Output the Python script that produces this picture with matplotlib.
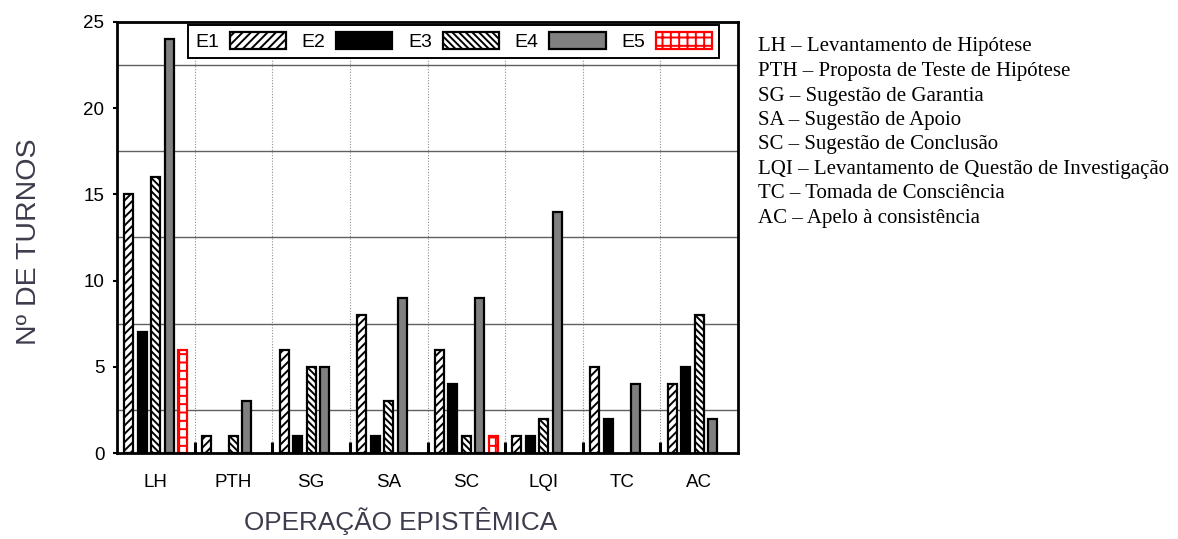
import numpy as np
import matplotlib
matplotlib.use("Agg")
import matplotlib.pyplot as plt
from matplotlib.ticker import MultipleLocator, FixedLocator

categories = ["LH", "PTH", "SG", "SA", "SC", "LQI", "TC", "AC"]
series = ["E1", "E2", "E3", "E4", "E5"]
e1 = [15, 1, 6, 8, 6, 1, 5, 4]
e2 = [7, 0, 1, 1, 4, 1, 2, 5]
e3 = [16, 1, 5, 3, 1, 2, 0, 8]
e4 = [24, 3, 5, 9, 9, 14, 4, 2]
e5 = [6, 0, 0, 0, 1, 0, 0, 0]
values = [e1, e2, e3, e4, e5]

glossary = [
    "LH \u2013 Levantamento de Hipótese",
    "PTH \u2013 Proposta de Teste de Hipótese",
    "SG \u2013 Sugestão de Garantia",
    "SA \u2013 Sugestão de Apoio",
    "SC \u2013 Sugestão de Conclusão",
    "LQI \u2013 Levantamento de Questão de Investigação",
    "TC \u2013 Tomada de Consciência",
    "AC \u2013 Apelo à consistência",
]

# bar styles: facecolor, edgecolor, hatch
styles = [
    ("white", "black", "////"),
    ("black", "black", None),
    ("white", "black", "\\\\\\\\\\"),
    ("#808080", "black", None),
    ("white", "red", "++"),
]

plt.rcParams["font.family"] = ["Liberation Sans", "DejaVu Sans"]
plt.rcParams["hatch.linewidth"] = 1.4

fig = plt.figure(figsize=(11.78, 5.39), dpi=100)
ax = fig.add_axes([117 / 1178, 1 - 453 / 539, 621 / 1178, 431 / 539])

x = np.arange(len(categories))
step = 0.174
width = 0.116
for i, (name, vals) in enumerate(zip(series, values)):
    vals = np.array(vals, dtype=float)
    mask = vals > 0
    fc, ec, hatch = styles[i]
    pos = x + (i - 2) * step
    ax.bar(pos[mask], vals[mask], width=width, color=fc, edgecolor=ec,
           hatch=hatch, linewidth=1.6, zorder=3)
    # proxy for the legend
    ax.bar([0], [0], width=0, color=fc, edgecolor=ec, hatch=hatch,
           linewidth=1.6, label=name)

ax.set_xlim(-0.5, len(categories) - 0.5)
ax.set_ylim(0, 25)
ax.yaxis.set_major_locator(MultipleLocator(5))
ax.yaxis.set_minor_locator(FixedLocator([2.5, 7.5, 12.5, 17.5, 22.5]))
ax.set_xticks(x)
ax.set_xticklabels(categories)
ax.xaxis.set_minor_locator(FixedLocator(np.arange(0.5, len(categories) - 0.5, 1)))

ax.grid(True, which="minor", axis="y", color="#606060", linewidth=1.0, zorder=1)
ax.grid(True, which="minor", axis="x", color="#909090", linewidth=0.8,
        linestyle=(0, (1, 1.5)), zorder=1)
ax.tick_params(axis="x", which="major", length=0, pad=15, labelsize=13.5)
ax.tick_params(axis="x", which="minor", direction="in", length=8, width=2.2,
               color="black")
ax.tick_params(axis="y", which="major", direction="out", length=3, width=1.5,
               labelsize=13.5, pad=6)
ax.tick_params(axis="y", which="minor", length=0)
for s in ax.spines.values():
    s.set_linewidth(2)
    s.set_color("black")
    s.set_zorder(4)

ax.set_ylabel("Nº DE TURNOS", fontsize=20.5, color="#3c3c4c")
ax.yaxis.set_label_coords(-0.12, 0.49)
ax.set_xlabel("OPERAÇÃO EPISTÊMICA", fontsize=18.8, color="#3c3c4c")
ax.xaxis.set_label_coords(0.457, -0.125)

leg = ax.legend(ncol=5, loc="upper center", bbox_to_anchor=(0.542, 0.993),
                borderaxespad=0, markerfirst=False, fontsize=14, frameon=True,
                fancybox=False, edgecolor="black", framealpha=1, borderpad=0.35,
                handlelength=2.9, handleheight=0.95, columnspacing=0.8,
                handletextpad=0.55)
leg.get_frame().set_linewidth(1.4)
leg.set_zorder(5)

y0 = 1 - 47 / 539
dy = 24.5 / 539
for k, line in enumerate(glossary):
    fig.text(758 / 1178, y0 - k * dy, line, fontsize=15,
             family=["Liberation Serif", "DejaVu Serif"], va="center", ha="left")

fig.savefig("out.png", dpi=100)
